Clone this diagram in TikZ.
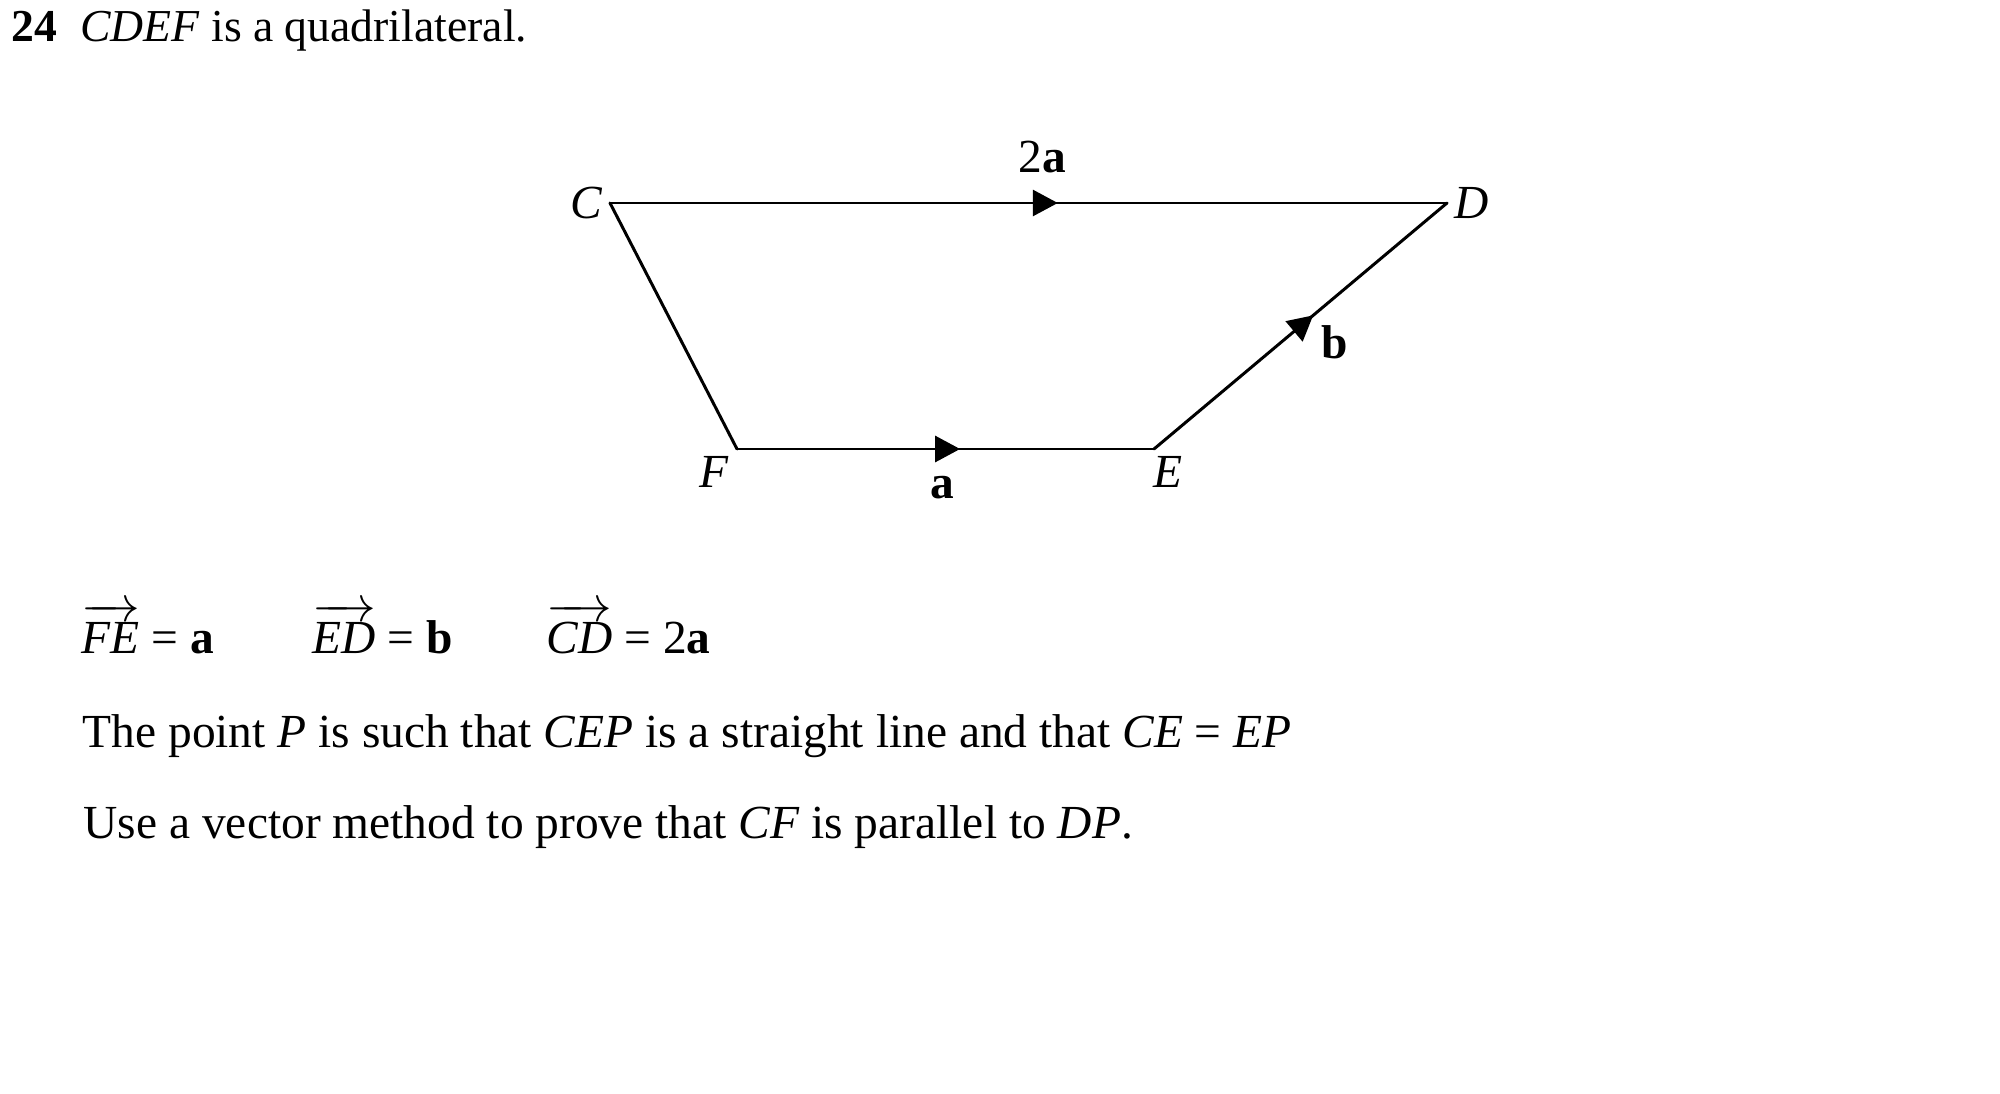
\documentclass[tikz,border=0pt]{standalone}
\usepackage{fontspec}
\setmainfont{Liberation Serif}
\usetikzlibrary{arrows.meta,decorations.markings}
\newcommand{\vecto}[1]{$\overrightarrow{\mbox{\itshape #1\rule{0pt}{.74em}}}$}
\begin{document}
\begin{tikzpicture}[line join=round, line cap=round,
  txt/.style={font=\fontsize{13.5}{16}\selectfont},
  line/.style={txt, anchor=base west, inner sep=0pt},
  side/.style={line width=.85pt, postaction={decorate},
   decoration={markings, mark=at position #1 with {\arrow{Triangle[length=.25cm,width=.26cm]}}}}]
 \useasboundingbox (0,0) rectangle (20,-10.94);
 \node[anchor=base west, inner sep=0pt, font=\fontsize{13}{15}\selectfont] (title) at (0.11,-0.417)
  {\textbf{24}\hspace{.5em}\textit{CDEF} is a quadrilateral.};
 % the quadrilateral
 \coordinate (C) at (6.10,-2.03);
 \coordinate (D) at (14.47,-2.03);
 \coordinate (E) at (11.54,-4.49);
 \coordinate (F) at (7.37,-4.49);
 \draw[side=.535] (C) -- (D);
 \draw[side=.535] (F) -- (E);
 \draw[side=.545] (E) -- (D);
 \draw[line width=.85pt] (C) -- (F);
 \node[txt, left, inner sep=2pt] (lC) at (C) {\textit{C}};
 \node[txt, right, inner sep=2pt] (lD) at (D) {\textit{D}};
 \node[txt, below left, inner sep=2pt] (lF) at (F) {\textit{F}};
 \node[txt, below, inner sep=2pt, xshift=.14cm] (lE) at (E) {\textit{E}};
 \node[txt] (l2a) at (10.42,-1.57) {2\textbf{a}};
 \node[txt] (la) at (9.42,-4.88) {\textbf{a}};
 \node[txt] (lb) at (13.35,-3.42) {\textbf{b}};
 % the text below
 \node[line] (vFE) at (0.81,-6.53) {\vecto{FE} = \textbf{a}};
 \node[line] (vED) at (3.12,-6.53) {\vecto{ED} = \textbf{b}};
 \node[line] (vCD) at (5.46,-6.53) {\vecto{CD} = 2\textbf{a}};
 \node[line] (p1) at (0.82,-7.47) {The point \textit{P} is such that \textit{CEP} is a straight line and that \textit{CE} = \textit{EP}};
 \node[line] (p2) at (0.83,-8.38) {Use a vector method to prove that \textit{CF} is parallel to \textit{DP}.};
\end{tikzpicture}
\end{document}
